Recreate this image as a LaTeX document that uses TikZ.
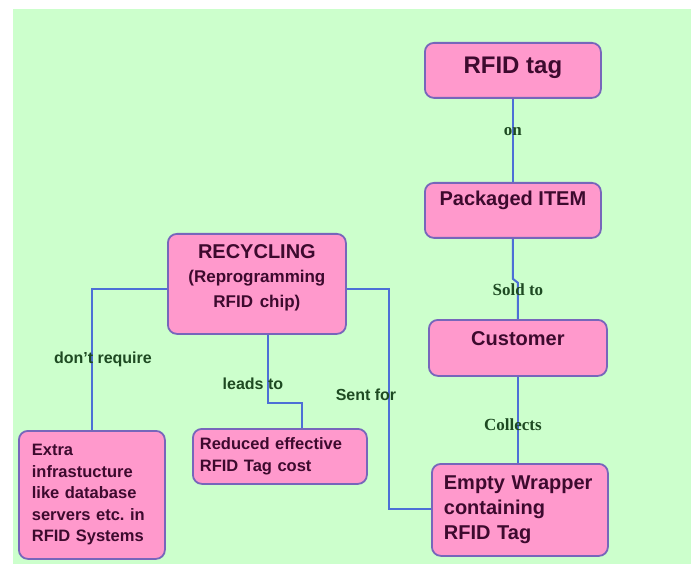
\documentclass[tikz,border=0pt]{standalone}
\usepackage{fontspec}
\setmainfont{Liberation Sans}
\newfontfamily\labserif{Liberation Serif}
\usetikzlibrary{calc}
\definecolor{bgcol}{HTML}{CCFFCC}
\definecolor{boxfill}{HTML}{FF99CC}
\definecolor{boxline}{HTML}{7766BB}
\definecolor{boxtext}{HTML}{3D0A2E}
\definecolor{connblue}{HTML}{4D6FD6}
\definecolor{labgreen}{HTML}{1E4A22}
\begin{document}
\begin{tikzpicture}[x=1pt,y=-1pt,
  box/.style={draw=boxline,line width=1.8pt,fill=boxfill,rounded corners=9pt,inner sep=0pt,anchor=north west,text=boxtext},
  conn/.style={draw=connblue,line width=2pt},
  labsans/.style={text=labgreen,font=\bfseries\fontsize{16}{18}\selectfont,inner sep=0pt},
  labser/.style={text=labgreen,font=\labserif\bfseries\fontsize{17}{19}\selectfont,inner sep=0pt}]
\useasboundingbox (0,0) rectangle (691,564);
\fill[bgcol] (13,9) rectangle (691,564);

\node[box,minimum width=176pt,text height=31pt,text depth=24pt,font=\bfseries\fontsize{24}{28}\selectfont] (rfid) at (424,42) {RFID tag};
\node[box,minimum width=176pt,text height=23pt,text depth=32pt,font=\bfseries\fontsize{20}{24}\selectfont] (pk) at (424,182) {Packaged ITEM};
\node[box,minimum width=178pt,text height=26pt,text depth=30pt,font=\bfseries\fontsize{20}{24}\selectfont] (cust) at (428,319) {Customer};
\node[box,inner xsep=12pt,text width=152pt,minimum height=92pt,align=left,font=\bfseries\fontsize{20}{25}\selectfont] (wrap) at (431,463) {Empty Wrapper\\containing\\RFID Tag};
\node[box,text width=178pt,text height=25pt,text depth=75pt,align=center,font=\bfseries\fontsize{20}{25}\selectfont] (rec) at (167,233) {RECYCLING\\\fontsize{17}{24}\selectfont(Reprogramming\\RFID chip)};
\node[box,inner xsep=7pt,text width=160pt,minimum height=55pt,align=left,font=\bfseries\fontsize{16.5}{22}\selectfont] (red) at (192,428) {Reduced effective\\RFID Tag cost};
\node[box,inner xsep=13pt,text width=120pt,minimum height=128pt,align=left,font=\bfseries\fontsize{16.5}{21.5}\selectfont] (extra) at (18,430) {Extra\\infrastucture\\like database\\servers etc.\ in\\RFID Systems};

\coordinate (sf) at (389,509);

\draw[conn] (rfid.south) -- (pk.north) node[labser,pos=0.4] {on};
\draw[conn] (pk.south) -- ++(0,40) -- ++(5,4) -- (cust.north) node[labser,pos=0.2] {Sold to};
\draw[conn] (cust.south) -- (cust.south |- wrap.north) node[labser,pos=0.56,xshift=-5pt] {Collects};
\draw[conn] ([yshift=-5pt]rec.west) -| (extra.north) node[labsans,pos=0.75,xshift=11pt] {don't require};
\draw[conn] ([xshift=11pt]rec.south) -- ++(0,68) node[labsans,pos=0.72,xshift=-15pt] {leads to} -| ([xshift=22pt]red.north);
\draw[conn] ([yshift=-5pt]rec.east) -| (sf) node[labsans,pos=0.74,xshift=-23pt] {Sent for} -- (sf -| wrap.west);
\end{tikzpicture}
\end{document}
